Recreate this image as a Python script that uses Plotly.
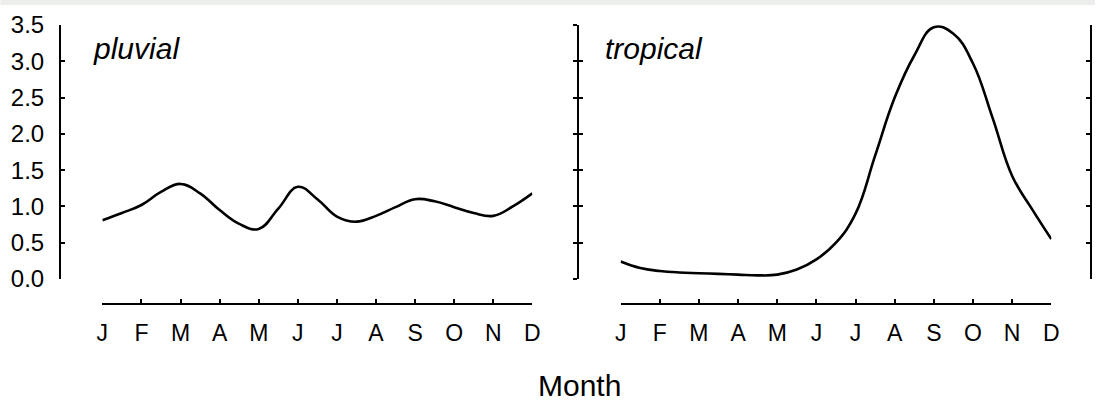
import plotly.graph_objects as go

# ---- data ----
month_labels = ["J", "F", "M", "A", "M", "J", "J", "A", "S", "O", "N", "D"]
month_ticks = list(range(12))
# sample positions in months (0 = January), every half month
t_pos = [0, 0.5, 1, 1.5, 2, 2.5, 3, 3.5, 4, 4.5, 5, 5.5, 6, 6.5, 7, 7.5, 8, 8.5, 9, 9.5, 10, 10.5, 11]
pluvial = [0.81, 0.91, 1.02, 1.20, 1.31, 1.18, 0.95, 0.76, 0.69, 0.97, 1.27, 1.10,
           0.86, 0.79, 0.87, 0.99, 1.10, 1.07, 0.99, 0.91, 0.87, 1.00, 1.18]
tropical = [0.24, 0.15, 0.11, 0.09, 0.08, 0.07, 0.06, 0.05, 0.06, 0.13, 0.27, 0.50,
            0.90, 1.70, 2.50, 3.08, 3.47, 3.38, 2.97, 2.22, 1.42, 0.97, 0.55]
y_ticks = [0, 0.5, 1.0, 1.5, 2.0, 2.5, 3.0, 3.5]

FONT = "Liberation Sans, Arial, sans-serif"
W, H = 1103, 403
ML, MR, MT, MB = 60, 4, 25, 99
pw = W - ML - MR
ph = H - MT - MB

def px(x):
    return (x - ML) / pw

def py(y):
    return (H - MB - y) / ph

ydom = [py(279), 1.0]

fig = go.Figure()
line_style = dict(color="black", width=2.6, shape="spline", smoothing=1.2)
fig.add_trace(go.Scatter(x=t_pos, y=pluvial, mode="lines", line=line_style,
                         xaxis="x", yaxis="y", showlegend=False, hoverinfo="skip"))
fig.add_trace(go.Scatter(x=t_pos, y=tropical, mode="lines", line=line_style,
                         xaxis="x2", yaxis="y2", showlegend=False, hoverinfo="skip"))
# invisible carriers so the extra tick axes are drawn
for ya in ["y3", "y4"]:
    fig.add_trace(go.Scatter(x=t_pos, y=tropical, mode="lines", opacity=0,
                             line=dict(width=0), xaxis="x2", yaxis=ya,
                             showlegend=False, hoverinfo="skip"))

axis_common = dict(showline=True, linecolor="black", linewidth=2, showgrid=False,
                   zeroline=False, tickcolor="black", tickwidth=2, ticklen=4)

xcommon = dict(axis_common, range=[0, 11], tickvals=month_ticks, ticktext=month_labels,
               ticks="inside", anchor="free", position=0,
               tickfont=dict(family=FONT, size=23, color="black"), ticklabelstandoff=8)
ycommon = dict(axis_common, range=[0, 3.5], tickvals=y_ticks, domain=ydom, anchor="free")

fig.update_layout(
    width=W, height=H,
    margin=dict(l=ML, r=MR, t=MT, b=MB),
    paper_bgcolor="white", plot_bgcolor="white",
    xaxis=dict(xcommon, domain=[px(102.7), px(536)]),
    xaxis2=dict(xcommon, domain=[px(625), px(1059)]),
    yaxis=dict(ycommon, position=0, ticks="inside", tickformat=".1f",
               tickfont=dict(family=FONT, size=24, color="black"), ticklabelstandoff=10),
    yaxis2=dict(ycommon, position=px(582), ticks="outside", showticklabels=False),
    yaxis3=dict(ycommon, position=px(582), ticks="inside", showticklabels=False,
                overlaying="y2"),
    yaxis4=dict(ycommon, position=1.0, side="right", ticks="inside",
                showticklabels=False, overlaying="y2"),
)

fig.add_annotation(text="pluvial", xref="paper", yref="paper", x=px(91), y=py(48),
                   xanchor="left", yanchor="middle", showarrow=False,
                   font=dict(family=FONT, size=30, color="black", style="italic"))
fig.add_annotation(text="tropical", xref="paper", yref="paper", x=px(607), y=py(48),
                   xanchor="left", yanchor="middle", showarrow=False,
                   font=dict(family=FONT, size=30, color="black", style="italic"))
fig.add_annotation(text="Month", xref="paper", yref="paper", x=px(584), y=py(386),
                   xanchor="center", yanchor="middle", showarrow=False,
                   font=dict(family=FONT, size=30, color="black"))

# faint band along the top edge
fig.add_shape(type="rect", xref="paper", yref="paper", x0=px(0), x1=px(W),
              y0=py(5), y1=py(0), fillcolor="#eceeeb", line=dict(width=0), layer="below")

fig.write_html("out.html", config={"displayModeBar": False},
               post_script="document.body.style.margin='0px';document.body.style.padding='0px';")
